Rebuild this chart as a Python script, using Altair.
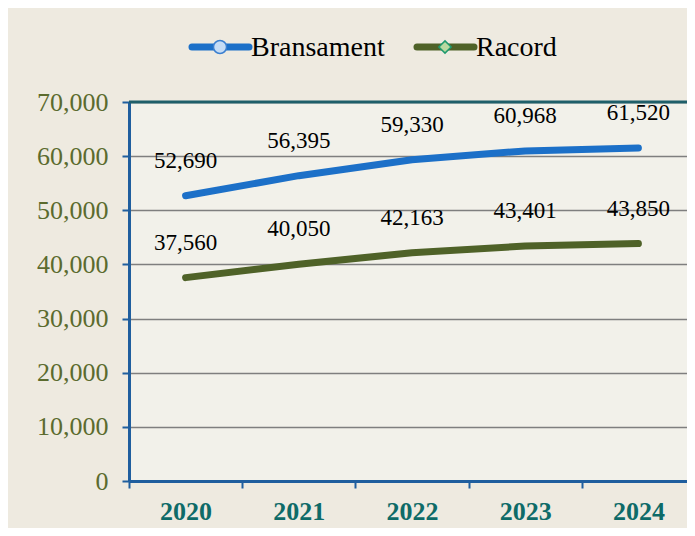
import altair as alt
import pandas as pd

years = ["2020", "2021", "2022", "2023", "2024"]
bransament = [52690, 56395, 59330, 60968, 61520]
racord = [37560, 40050, 42163, 43401, 43850]
series_names = ["Bransament", "Racord"]
series_colors = ["#1C70C8", "#4F6228"]
marker_fill = ["#C5DCF5", "#B9D9A0"]
marker_stroke = ["#3A7FD0", "#1E9A6E"]
marker_shape = ["circle", "diamond"]

rows = []
for s, vals in zip(series_names, [bransament, racord]):
    for y, v in zip(years, vals):
        rows.append({"year": y, "value": v, "series": s, "label": f"{v:,}"})
df = pd.DataFrame(rows)

SERIF = "Liberation Serif"
W, H = 566, 379

x_enc = alt.X("year:O", scale=alt.Scale(type="band", paddingInner=0, paddingOuter=0),
              axis=alt.Axis(title=None, labelAngle=0, tickBand="extent", labelFont=SERIF,
                            labelFontSize=26, labelFontWeight="bold", labelColor="#0E6B68",
                            labelPadding=10, domainColor="#1F5E9E", domainWidth=3,
                            tickColor="#1F5E9E", tickWidth=2, tickSize=7, grid=False))
y_enc = alt.Y("value:Q", scale=alt.Scale(domain=[0, 70000], nice=False),
              axis=alt.Axis(title=None, values=list(range(0, 70001, 10000)), format=",d",
                            labelFont=SERIF, labelFontSize=26, labelColor="#5B6B2E",
                            labelPadding=14, domainColor="#1F5E9E", domainWidth=3,
                            tickColor="#1F5E9E", tickWidth=2, tickSize=7,
                            grid=True, gridColor="#7F7F7F", gridWidth=1.5))
color_enc = alt.Color("series:N", scale=alt.Scale(domain=series_names, range=series_colors), legend=None)

base = alt.Chart(df)
lines = base.mark_line(strokeWidth=7, strokeCap="round", strokeJoin="round").encode(
    x=x_enc, y=y_enc, color=color_enc, detail="series:N")
labels = base.mark_text(font=SERIF, fontSize=23, color="black", dy=-35).encode(
    x="year:O", y="value:Q", text="label:N")

# top border of the plot
top = alt.Chart(pd.DataFrame({"v": [70000]})).mark_rule(color="#1F5F6A", strokeWidth=3).encode(
    y="v:Q", x=alt.value(0), x2=alt.value(W))

# manual legend
leg_layers = []
leg_x = [63, 288]
for i, name in enumerate(series_names):
    x0 = leg_x[i]
    leg_layers.append(alt.Chart(pd.DataFrame({"n": [name]})).mark_rule(
        color=series_colors[i], strokeWidth=7, strokeCap="round").encode(
        x=alt.value(x0), x2=alt.value(x0 + 57), y=alt.value(-55)))
    leg_layers.append(alt.Chart(pd.DataFrame({"n": [name]})).mark_point(
        shape=marker_shape[i], filled=True, fill=marker_fill[i], stroke=marker_stroke[i],
        strokeWidth=1.5, size=170 if i == 0 else 150, opacity=1).encode(
        x=alt.value(x0 + 28), y=alt.value(-55)))
    leg_layers.append(alt.Chart(pd.DataFrame({"n": [name]})).mark_text(
        font=SERIF, fontSize=28, color="black", align="left", baseline="middle").encode(
        x=alt.value(x0 + 59), y=alt.value(-54), text="n:N"))

chart = alt.layer(lines, top, labels, *leg_layers).properties(
    width=W, height=H,
    background="#EEEAE0",
    padding={"left": 121, "top": 94, "right": -8, "bottom": 47},
    autosize=alt.AutoSizeParams(type="none"),
).configure_view(fill="#F2F1EA", stroke=None)

chart.save("out.html", embed_options={"renderer": "svg", "actions": False})
